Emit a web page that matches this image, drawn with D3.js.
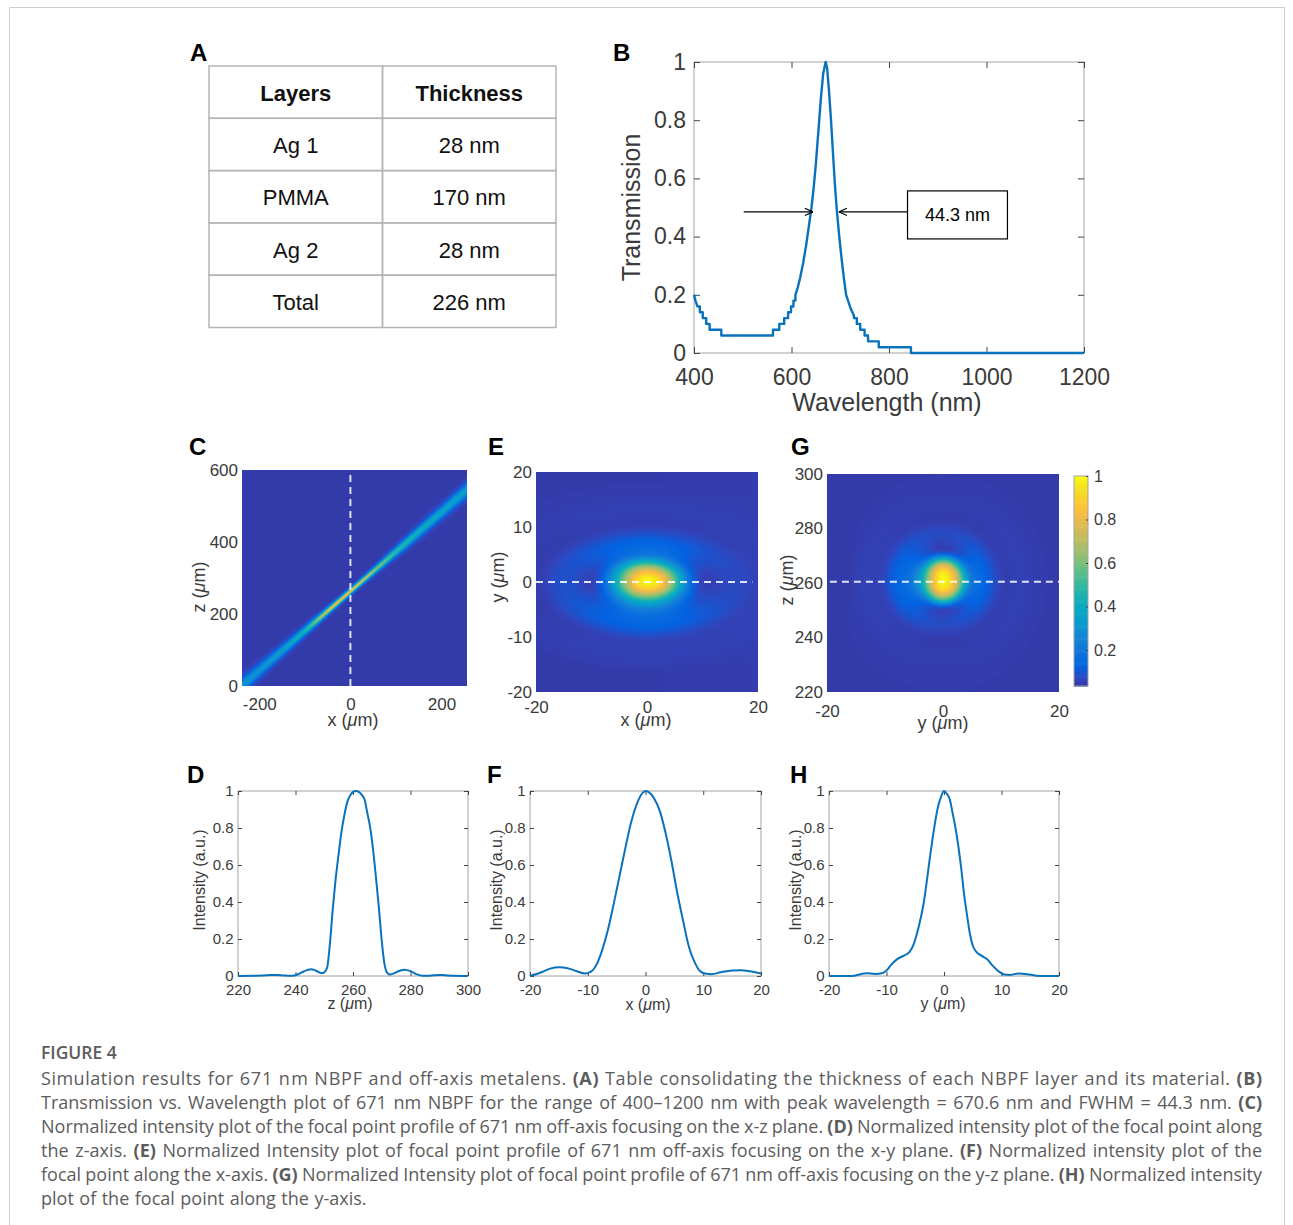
<!DOCTYPE html>
<html>
<head>
<meta charset="utf-8">
<script src="https://cdn.jsdelivr.net/npm/d3@7"></script>
<style>
  body { margin: 0; background: #fff; }
  svg { display: block; font-family: "Liberation Sans", Arial, sans-serif; }
</style>
</head>
<body>
<div id="fig"></div>
<script>
// ---------- data ----------
const tableHeader = ["Layers", "Thickness"];
const layerNames = ["Ag 1", "PMMA", "Ag 2", "Total"];
const layerThickness = ["28 nm", "170 nm", "28 nm", "226 nm"];

// B: transmission vertices [wavelength nm, T] (staircase corners included)
const transmission = [
  [400, 0.20], [403, 0.18], [407, 0.16], [412, 0.16], [412, 0.14], [418, 0.14], [418, 0.12],
  [425, 0.12], [425, 0.10], [432, 0.10], [432, 0.08], [456, 0.08], [456, 0.06], [562, 0.06],
  [562, 0.08], [575, 0.08], [575, 0.10], [585, 0.10], [585, 0.12], [593, 0.12], [593, 0.14],
  [599, 0.14], [599, 0.16], [604, 0.16], [604, 0.18], [608, 0.18], [608, 0.20],
  [612, 0.22], [618, 0.26], [624, 0.31], [630, 0.37], [636, 0.44], [641, 0.50], [645, 0.56],
  [650, 0.65], [655, 0.76], [660, 0.87], [665, 0.96], [670, 1.00], [673, 0.98], [677, 0.90],
  [681, 0.80], [685, 0.69], [689, 0.58], [693, 0.49], [698, 0.40], [703, 0.32], [708, 0.25],
  [712, 0.20], [718, 0.17], [722, 0.15], [728, 0.13], [728, 0.12], [734, 0.12], [734, 0.10],
  [741, 0.10], [741, 0.08], [750, 0.08], [750, 0.06], [757, 0.06], [757, 0.04], [779, 0.04],
  [779, 0.02], [845, 0.02], [845, 0.00], [1200, 0.00]
];
const fwhmArrows = [{ from: 502, to: 644, t: 0.485 }, { from: 838, to: 697, t: 0.485 }];
const fwhmBox = { wl0: 838, wl1: 1043, t0: 0.392, t1: 0.557, label: "44.3 nm" };

// D: intensity along z (µm)
const profZ = [220, 226, 230, 233.5, 236, 238, 240, 242, 244, 245.5, 247, 249, 250, 251, 252, 253, 254, 255,
  256, 257, 258, 259, 260, 261, 262, 263, 264, 265, 266, 267, 268, 269, 270, 271, 272, 273, 274, 276, 278,
  280, 282, 284, 286, 288, 290, 292, 295, 300];
const profZI = [0, 0.002, 0.004, 0.006, 0.003, 0.001, 0.004, 0.018, 0.032, 0.037, 0.03, 0.015, 0.02, 0.045,
  0.18, 0.37, 0.53, 0.66, 0.78, 0.87, 0.94, 0.975, 0.995, 1.0, 0.995, 0.98, 0.955, 0.88, 0.80, 0.68, 0.53,
  0.37, 0.19, 0.06, 0.015, 0.008, 0.013, 0.027, 0.034, 0.026, 0.01, 0.002, 0.001, 0.004, 0.006, 0.004, 0.001, 0];

// F: intensity along x (µm)
const profX = [-20, -18, -16.5, -15, -13.5, -12, -10.5, -9.5, -8.5, -7.5, -6.5, -5.5, -4.5, -3.5, -2.5, -1.5,
  -0.5, 0, 0.5, 1.5, 2.5, 3.5, 4.5, 5.5, 6.5, 7.5, 8.5, 9.5, 10.5, 11.5, 13, 15, 16.5, 18, 20];
const profXI = [0, 0.02, 0.04, 0.047, 0.042, 0.027, 0.013, 0.022, 0.06, 0.14, 0.25, 0.39, 0.54, 0.69, 0.83,
  0.93, 0.99, 1.0, 0.995, 0.96, 0.89, 0.77, 0.62, 0.45, 0.30, 0.16, 0.075, 0.025, 0.012, 0.01, 0.02, 0.03,
  0.031, 0.026, 0.014];

// H: intensity along y (µm)
const profY = [-20, -16, -14.5, -13.5, -12, -10.8, -10, -9.2, -8.2, -7, -6, -5.3, -4.7, -4, -3.5, -3, -2.5, -2,
  -1.5, -1, -0.5, 0, 0.5, 1, 1.5, 2, 2.5, 3, 3.5, 4, 4.5, 5, 5.5, 6.5, 7.5, 8.5, 9.5, 10.5, 11.5, 13, 14.5,
  16, 18, 20];
const profYI = [0, 0, 0.01, 0.015, 0.011, 0.015, 0.03, 0.06, 0.09, 0.11, 0.13, 0.17, 0.23, 0.32, 0.40, 0.51,
  0.63, 0.74, 0.84, 0.92, 0.97, 1.0, 0.985, 0.955, 0.88, 0.80, 0.70, 0.58, 0.44, 0.33, 0.23, 0.165, 0.135,
  0.11, 0.09, 0.055, 0.025, 0.008, 0.006, 0.014, 0.01, 0.002, 0, 0];

// half widths at half maximum of the three cuts (µm)
const spotHalfX = 6.0;
const spotHalfY = 3.2;
const spotHalfZ = 7.0;
const focusZ = 261;        // focal plane z (µm)

// C: off-axis beam in the x-z plane (centre z, peak value, half width in z)
const beamX = [-238, -200, -150, -100, -60, -30, 0, 30, 60, 100, 150, 200, 256];
const beamZ = [1, 43, 98, 153, 197, 230, 263, 296, 329, 373, 428, 483, 545];
const beamPeak = [0.28, 0.28, 0.32, 0.42, 0.70, 0.82, 0.82, 0.72, 0.60, 0.48, 0.40, 0.36, 0.32];
const beamHalf = [16, 14, 12, 10, 8, 7, 6.5, 7, 8, 10, 12, 13, 15];
const crossOffset = [0, 0.5, 1, 1.5, 2, 2.5, 3];
const crossValue = [1, 0.85, 0.5, 0.22, 0.08, 0.02, 0];

const heatFloor = 0.045;   // background level of the field maps

const captionTitle = "FIGURE 4";
const captionLines = [
  "Simulation results for 671 nm NBPF and off-axis metalens. (A) Table consolidating the thickness of each NBPF layer and its material. (B)",
  "Transmission vs. Wavelength plot of 671 nm NBPF for the range of 400–1200 nm with peak wavelength = 670.6 nm and FWHM = 44.3 nm. (C)",
  "Normalized intensity plot of the focal point profile of 671 nm off-axis focusing on the x-z plane. (D) Normalized intensity plot of the focal point along",
  "the z-axis. (E) Normalized Intensity plot of focal point profile of 671 nm off-axis focusing on the x-y plane. (F) Normalized intensity plot of the",
  "focal point along the x-axis. (G) Normalized Intensity plot of focal point profile of 671 nm off-axis focusing on the y-z plane. (H) Normalized intensity",
  "plot of the focal point along the y-axis."
];

// ---------- styles ----------
const txtCol = "#3a3a3a";
const frameCol = "#a3a3a3";
const lineCol = "#0a72bd";
const fmt = d => String(d);
const parulaStops = [
  [0.2081, 0.1663, 0.5292], [0.1959, 0.2645, 0.7279], [0.0117, 0.3875, 0.8820], [0.0498, 0.4586, 0.8641],
  [0.0793, 0.5200, 0.8312], [0.0343, 0.5966, 0.8199], [0.0228, 0.6535, 0.7768], [0.0843, 0.6928, 0.7062],
  [0.2178, 0.7250, 0.6193], [0.3953, 0.7459, 0.5244], [0.5709, 0.7485, 0.4494], [0.7184, 0.7411, 0.3905],
  [0.8507, 0.7299, 0.3360], [0.9739, 0.7314, 0.2666], [0.9880, 0.8066, 0.1794], [0.9589, 0.8949, 0.1132],
  [0.9763, 0.9831, 0.0538]
];
const parula = d3.scaleLinear()
  .domain(parulaStops.map((d, i) => i === parulaStops.length - 1 ? 1 : i * 4 / 63))
  .range(parulaStops.map(c => d3.rgb(c[0] * 255, c[1] * 255, c[2] * 255).formatHex()))
  .clamp(true);
const lut = d3.range(256).map(i => d3.rgb(parula(i / 255)));

const svg = d3.select("#fig").append("svg").attr("width", 1293).attr("height", 1225);

// outer frame of the figure box
svg.append("path")
  .attr("d", "M9.5,1225 V7.5 H1284.5 V1225")
  .attr("fill", "none").attr("stroke", "#cfcfcf").attr("stroke-width", 1);

function panelLabel(t, x, y) {
  svg.append("text").attr("x", x).attr("y", y).attr("font-size", 24).attr("font-weight", 700)
    .attr("fill", "#000").text(t);
}

function muLabel(x, y, name, size, rotate) {
  const t = svg.append("text").attr("text-anchor", "middle").attr("font-size", size).attr("fill", txtCol)
    .attr("transform", rotate ? `translate(${x},${y}) rotate(-90)` : `translate(${x},${y})`);
  t.append("tspan").text(name + " (");
  t.append("tspan").attr("font-style", "italic").text("μ");
  t.append("tspan").text("m)");
}

function styleAxis(g, size) {
  g.select(".domain").remove();
  g.selectAll("text").attr("fill", txtCol).attr("font-size", size).attr("font-family", null);
  g.selectAll("line").attr("stroke", "#444");
}

// framed MATLAB-style axes with ticks inside on all sides
function boxAxes(x, y, o) {
  const [l, r] = x.range(), [b, t] = y.range();
  const g = svg.append("g");
  g.append("rect").attr("x", l).attr("y", t).attr("width", r - l).attr("height", b - t)
    .attr("fill", "none").attr("stroke", frameCol).attr("stroke-width", 1);
  const tl = -o.tickLen;
  g.append("g").attr("transform", `translate(0,${b})`)
    .call(d3.axisBottom(x).tickValues(o.xTicks).tickFormat(fmt).tickSizeInner(tl).tickSizeOuter(0).tickPadding(o.xPad))
    .call(a => styleAxis(a, o.size));
  g.append("g").attr("transform", `translate(0,${t})`)
    .call(d3.axisTop(x).tickValues(o.xTicks).tickSizeInner(tl).tickSizeOuter(0).tickFormat(""))
    .call(a => styleAxis(a, o.size));
  g.append("g").attr("transform", `translate(${l},0)`)
    .call(d3.axisLeft(y).tickValues(o.yTicks).tickFormat(fmt).tickSizeInner(tl).tickSizeOuter(0).tickPadding(o.yPad))
    .call(a => styleAxis(a, o.size));
  g.append("g").attr("transform", `translate(${r},0)`)
    .call(d3.axisRight(y).tickValues(o.yTicks).tickSizeInner(tl).tickSizeOuter(0).tickFormat(""))
    .call(a => styleAxis(a, o.size));
  return g;
}

// ---------- A: table ----------
panelLabel("A", 190, 61);
{
  const colX = d3.scaleBand().domain([0, 1]).range([209, 556]);
  const rowY = d3.scaleBand().domain(d3.range(5)).range([66, 327.5]);
  const rows = [tableHeader].concat(layerNames.map((n, i) => [n, layerThickness[i]]));
  const g = svg.append("g");
  rows.forEach((row, ri) => row.forEach((cell, ci) => {
    g.append("rect").attr("x", colX(ci)).attr("y", rowY(ri)).attr("width", colX.bandwidth())
      .attr("height", rowY.bandwidth()).attr("fill", "none").attr("stroke", "#b5b5b5").attr("stroke-width", 1.5);
    g.append("text").attr("x", colX(ci) + colX.bandwidth() / 2).attr("y", rowY(ri) + rowY.bandwidth() / 2 + 8.5)
      .attr("text-anchor", "middle").attr("font-size", 22).attr("font-weight", ri === 0 ? 700 : 400)
      .attr("fill", "#111").text(cell);
  }));
}

// ---------- B: transmission ----------
panelLabel("B", 613, 61);
{
  const x = d3.scaleLinear().domain([400, 1200]).range([694, 1084]);
  const y = d3.scaleLinear().domain([0, 1]).range([353, 62]);
  boxAxes(x, y, { xTicks: [400, 600, 800, 1000, 1200], yTicks: [0, 0.2, 0.4, 0.6, 0.8, 1],
    tickLen: 6, size: 23, xPad: 16, yPad: 8 });
  svg.append("path").datum(transmission)
    .attr("d", d3.line().x(d => x(d[0])).y(d => y(d[1])))
    .attr("fill", "none").attr("stroke", lineCol).attr("stroke-width", 2.4).attr("stroke-linejoin", "round");
  svg.append("defs").append("marker").attr("id", "arr").attr("viewBox", "0 0 10 10")
    .attr("refX", 10).attr("refY", 5).attr("markerWidth", 9).attr("markerHeight", 9)
    .attr("markerUnits", "userSpaceOnUse").attr("orient", "auto")
    .append("path").attr("d", "M1,1 L10,5 L1,9").attr("fill", "none").attr("stroke", "#000").attr("stroke-width", 1.3);
  svg.selectAll(".fwhm").data(fwhmArrows).join("line")
    .attr("x1", d => x(d.from)).attr("x2", d => x(d.to)).attr("y1", d => y(d.t)).attr("y2", d => y(d.t))
    .attr("stroke", "#000").attr("stroke-width", 1.2).attr("marker-end", "url(#arr)");
  svg.append("rect").attr("x", x(fwhmBox.wl0)).attr("y", y(fwhmBox.t1))
    .attr("width", x(fwhmBox.wl1) - x(fwhmBox.wl0)).attr("height", y(fwhmBox.t0) - y(fwhmBox.t1))
    .attr("fill", "#fff").attr("stroke", "#000").attr("stroke-width", 1.2);
  svg.append("text").attr("x", (x(fwhmBox.wl0) + x(fwhmBox.wl1)) / 2).attr("y", (y(fwhmBox.t0) + y(fwhmBox.t1)) / 2 + 6)
    .attr("text-anchor", "middle").attr("font-size", 18).attr("fill", "#000").text(fwhmBox.label);
  svg.append("text").attr("transform", "translate(640,207.5) rotate(-90)").attr("text-anchor", "middle")
    .attr("font-size", 25).attr("fill", txtCol).text("Transmission");
  svg.append("text").attr("x", 887).attr("y", 411).attr("text-anchor", "middle")
    .attr("font-size", 25).attr("fill", txtCol).text("Wavelength (nm)");
}

// ---------- field maps ----------
const profileX = d3.scaleLinear().domain(profX).range(profXI).clamp(true);
const profileY = d3.scaleLinear().domain(profY).range(profYI).clamp(true);
const profileZ = d3.scaleLinear().domain(profZ).range(profZI).clamp(true);
const beamCentre = d3.scaleLinear().domain(beamX).range(beamZ);
const beamPeakAt = d3.scaleLinear().domain(beamX).range(beamPeak).clamp(true);
const beamHalfAt = d3.scaleLinear().domain(beamX).range(beamHalf).clamp(true);
const beamCross = d3.scaleLinear().domain(crossOffset).range(crossValue).clamp(true);

// elliptical blend of two measured cuts through the focal spot
function blend(pa, a, ha, pb, b, hb) {
  const u = a / ha, v = b / hb;
  const r2 = u * u + v * v;
  if (r2 === 0) return 1;
  const rho = Math.sqrt(r2), wa = u * u / r2;
  return wa * pa((a < 0 ? -rho : rho) * ha) + (1 - wa) * pb((b < 0 ? -rho : rho) * hb);
}

function heatmap(x, y, valueAt) {
  const [l, r] = x.range(), [b, t] = y.range();
  const w = Math.round(r - l), h = Math.round(b - t);
  const canvas = document.createElement("canvas");
  canvas.width = w; canvas.height = h;
  const ctx = canvas.getContext("2d");
  const img = ctx.createImageData(w, h);
  for (let j = 0; j < h; j++) {
    const yv = y.invert(t + j + 0.5);
    for (let i = 0; i < w; i++) {
      const v = heatFloor + (1 - heatFloor) * valueAt(x.invert(l + i + 0.5), yv);
      const c = lut[Math.max(0, Math.min(255, Math.round(v * 255)))];
      const k = (j * w + i) * 4;
      img.data[k] = c.r; img.data[k + 1] = c.g; img.data[k + 2] = c.b; img.data[k + 3] = 255;
    }
  }
  ctx.putImageData(img, 0, 0);
  svg.append("image").attr("x", l).attr("y", t).attr("width", w).attr("height", h)
    .attr("preserveAspectRatio", "none").attr("href", canvas.toDataURL());
}

function mapAxes(x, y, xTicks, yTicks, xPad) {
  const [l] = x.range(), [b] = y.range();
  svg.append("g").attr("transform", `translate(0,${b})`)
    .call(d3.axisBottom(x).tickValues(xTicks).tickFormat(fmt).tickSize(0).tickPadding(xPad))
    .call(a => styleAxis(a, 17));
  svg.append("g").attr("transform", `translate(${l},0)`)
    .call(d3.axisLeft(y).tickValues(yTicks).tickFormat(fmt).tickSize(0).tickPadding(4))
    .call(a => styleAxis(a, 17));
}

function dashed(x1, y1, x2, y2) {
  svg.append("line").attr("x1", x1).attr("y1", y1).attr("x2", x2).attr("y2", y2)
    .attr("stroke", "#fff").attr("stroke-opacity", 0.85).attr("stroke-width", 2).attr("stroke-dasharray", "7 5");
}

// C
panelLabel("C", 189, 455);
{
  const x = d3.scaleLinear().domain([-238, 256]).range([242, 467]);
  const y = d3.scaleLinear().domain([0, 600]).range([686, 470]);
  heatmap(x, y, (xv, zv) => beamPeakAt(xv) * beamCross(Math.abs(zv - beamCentre(xv)) / beamHalfAt(xv)));
  dashed(x(0), y(0), x(0), y(600));
  mapAxes(x, y, [-200, 0, 200], [0, 200, 400, 600], 12);
  muLabel(353, 726, "x", 18, false);
  muLabel(205, 587, "z", 18, true);
}

// E
panelLabel("E", 488, 455);
{
  const x = d3.scaleLinear().domain([-20, 20]).range([536, 758]);
  const y = d3.scaleLinear().domain([-20, 20]).range([692, 472]);
  heatmap(x, y, (xv, yv) => blend(profileX, xv, spotHalfX, profileY, yv, spotHalfY));
  dashed(x(-20), y(0), x(19), y(0));
  mapAxes(x, y, [-20, 0, 20], [-20, -10, 0, 10, 20], 9);
  muLabel(646, 726, "x", 18, false);
  muLabel(504, 577, "y", 18, true);
}

// G
panelLabel("G", 791, 455);
{
  const x = d3.scaleLinear().domain([-20, 20]).range([827, 1059]);
  const y = d3.scaleLinear().domain([220, 300]).range([692, 474]);
  heatmap(x, y, (yv, zv) => blend(profileY, yv, spotHalfY, v => profileZ(focusZ + v), zv - focusZ, spotHalfZ));
  dashed(x(-19.5), y(260.5), x(20), y(260.5));
  mapAxes(x, y, [-20, 0, 20], [220, 240, 260, 280, 300], 13);
  muLabel(943, 729, "y", 18, false);
  muLabel(793, 580, "z", 18, true);

  // colour bar
  const cb = d3.scaleLinear().domain([0, 1]).range([693.5, 476]);
  const cbMin = cb.invert(686);
  const steps = d3.range(cbMin, 1, 0.005);
  svg.append("g").selectAll("rect").data(steps).join("rect")
    .attr("x", 1074).attr("width", 14)
    .attr("y", d => cb(Math.min(1, d + 0.005)))
    .attr("height", d => cb(d) - cb(Math.min(1, d + 0.005)) + 0.6)
    .attr("fill", d => parula(d + 0.0025));
  svg.append("rect").attr("x", 1074).attr("y", cb(1)).attr("width", 14).attr("height", 686 - cb(1))
    .attr("fill", "none").attr("stroke", frameCol).attr("stroke-width", 1);
  svg.append("g").attr("transform", "translate(1088,0)")
    .call(d3.axisRight(cb).tickValues([0.2, 0.4, 0.6, 0.8, 1]).tickFormat(fmt).tickSizeInner(-2).tickSizeOuter(0).tickPadding(6))
    .call(a => styleAxis(a, 16));
}

// ---------- D / F / H: line profiles ----------
function profilePanel(label, lx, xs, ys, dom, ticks, xRange, axisName, nameX, yLabelX, xLabelY) {
  panelLabel(label, lx, 783);
  const x = d3.scaleLinear().domain(dom).range(xRange);
  const y = d3.scaleLinear().domain([0, 1]).range([976, 791]);
  boxAxes(x, y, { xTicks: ticks, yTicks: [0, 0.2, 0.4, 0.6, 0.8, 1], tickLen: 4, size: 15, xPad: 8, yPad: 4.5 });
  svg.append("path").datum(xs.map((v, i) => [v, ys[i]]))
    .attr("d", d3.line().curve(d3.curveMonotoneX).x(d => x(d[0])).y(d => y(d[1])))
    .attr("fill", "none").attr("stroke", lineCol).attr("stroke-width", 2);
  svg.append("text").attr("transform", `translate(${yLabelX},880) rotate(-90)`).attr("text-anchor", "middle")
    .attr("font-size", 16).attr("fill", txtCol).text("Intensity (a.u.)");
  muLabel(nameX, xLabelY, axisName, 16, false);
}
profilePanel("D", 187, profZ, profZI, [220, 300], [220, 240, 260, 280, 300], [238, 468], "z", 350, 205, 1009);
profilePanel("F", 487, profX, profXI, [-20, 20], [-20, -10, 0, 10, 20], [530, 761], "x", 648, 502, 1010);
profilePanel("H", 790, profY, profYI, [-20, 20], [-20, -10, 0, 10, 20], [829, 1059], "y", 943, 801, 1009);

// ---------- caption ----------
{
  const capG = svg.append("g").attr("font-family", "'Open Sans', Lato, sans-serif").attr("fill", "#5c5c5c");
  capG.append("text").attr("x", 41).attr("y", 1059).attr("font-size", 17.5).attr("font-weight", 600)
    .attr("fill", "#5c5c5c").text(captionTitle);
  const left = 41, right = 1262;
  captionLines.forEach((line, li) => {
    const yb = 1085 + li * 24;
    const items = line.split(" ").map(w => {
      const t = capG.append("text").attr("y", yb).attr("font-size", 18)
        .attr("font-weight", /^\([A-H]\)$/.test(w) ? 700 : 400).text(w);
      return { t, w: t.node().getComputedTextLength() };
    });
    const total = d3.sum(items, d => d.w);
    const last = li === captionLines.length - 1;
    let gap = last ? 5.5 : (right - left - total) / (items.length - 1);
    let scale = 1, adjust = null;
    if (gap < 3.5) { gap = 3.5; adjust = "spacingAndGlyphs"; }
    else if (gap > 6.5 && !last) { gap = 6.5; adjust = "spacing"; }
    if (adjust) scale = (right - left - gap * (items.length - 1)) / total;
    let xp = left;
    items.forEach(d => {
      d.t.attr("x", xp);
      if (adjust) d.t.attr("textLength", d.w * scale).attr("lengthAdjust", adjust);
      xp += d.w * scale + gap;
    });
  });
}
</script>
</body>
</html>
